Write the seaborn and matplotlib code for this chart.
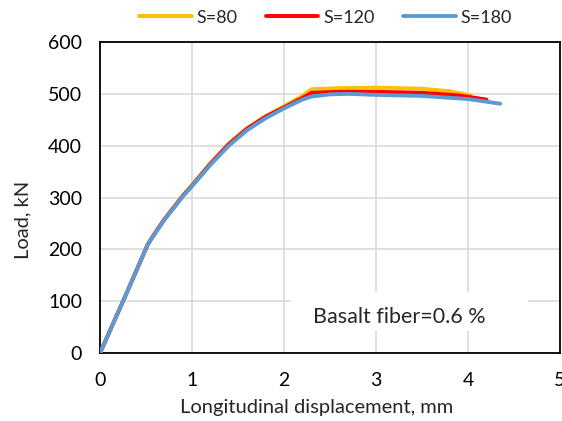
import matplotlib
matplotlib.use("Agg")
import matplotlib.pyplot as plt
from matplotlib.patches import Rectangle
import seaborn as sns
import pandas as pd

# load-displacement curves, basalt fiber 0.6 %
x80 = [0, 0.27, 0.52, 0.6, 0.7, 0.9, 1.0, 1.2, 1.4, 1.6, 1.8, 2.0, 2.2, 2.3, 2.6, 3.0, 3.5, 3.8, 4.03]
y80 = [0, 108, 210, 232, 258, 304, 324, 366, 404, 434, 457, 476, 496, 509, 511, 512, 510, 505, 497]

x120 = [0, 0.27, 0.52, 0.6, 0.7, 0.9, 1.0, 1.2, 1.4, 1.6, 1.8, 2.0, 2.2, 2.3, 2.6, 3.0, 3.5, 3.9, 4.2]
y120 = [0, 108, 210, 232, 258, 303, 323, 365, 403, 433, 456, 474, 492, 502, 504, 504, 502, 497, 489]

x180 = [0, 0.27, 0.52, 0.6, 0.7, 0.9, 1.0, 1.2, 1.4, 1.6, 1.8, 2.0, 2.2, 2.3, 2.5, 2.7, 3.0, 3.5, 4.0, 4.35]
y180 = [0, 108, 210, 231, 257, 302, 322, 363, 400, 430, 453, 472, 489, 495, 499, 500, 498, 496, 490, 481]

labels = ["S=80", "S=120", "S=180"]
colors = ["#FFC000", "#FF0000", "#5B9BD5"]

frames = []
for lab, xs, ys in zip(labels, [x80, x120, x180], [y80, y120, y180]):
    frames.append(pd.DataFrame({"disp": xs, "load": ys, "series": lab}))
df = pd.concat(frames, ignore_index=True)

sns.set_style("white")
plt.rcParams["font.family"] = ["Lato", "DejaVu Sans"]
plt.rcParams["font.size"] = 14

fig = plt.figure(figsize=(5.62, 4.21), dpi=100)
ax = fig.add_axes([0.178, 0.1615, 0.8185, 0.7387])

sns.lineplot(data=df, x="disp", y="load", hue="series", palette=dict(zip(labels, colors)),
             sort=False, linewidth=2.8, ax=ax, zorder=3)

ax.set_xlim(0, 5)
ax.set_ylim(0, 600)
ax.set_xticks(range(0, 6))
ax.set_yticks(range(0, 700, 100))
ax.grid(True, color="#D9D9D9", linewidth=1.2)
ax.set_axisbelow(True)
for sp in ax.spines.values():
    sp.set_color("black")
    sp.set_linewidth(1.3)
ax.tick_params(axis="y", length=0, labelsize=14, colors="black", pad=13)
ax.tick_params(axis="x", length=0, labelsize=14, colors="black", pad=14)
ax.set_xlabel("Longitudinal displacement, mm", fontsize=14.5, va="center")
ax.set_ylabel("Load, kN", fontsize=14.5, va="center")
ax.xaxis.set_label_coords(0.47, -0.174)
ax.yaxis.set_label_coords(-0.167, 0.428)

ax.legend(loc="center", bbox_to_anchor=(0.49, 1.078), ncol=3, frameon=False,
          handlelength=2.9, columnspacing=1.6, handletextpad=0.25, fontsize=13,
          borderaxespad=0.0, borderpad=0.1)

# white label box over the grid
ax.add_patch(Rectangle((2.08, 42), 2.57, 76, fc="white", ec="none", zorder=2.5))
ax.text(2.32, 69, "Basalt fiber=0.6 %", fontsize=15.5, ha="left", va="center", zorder=4)

fig.savefig("out.png", dpi=100)
